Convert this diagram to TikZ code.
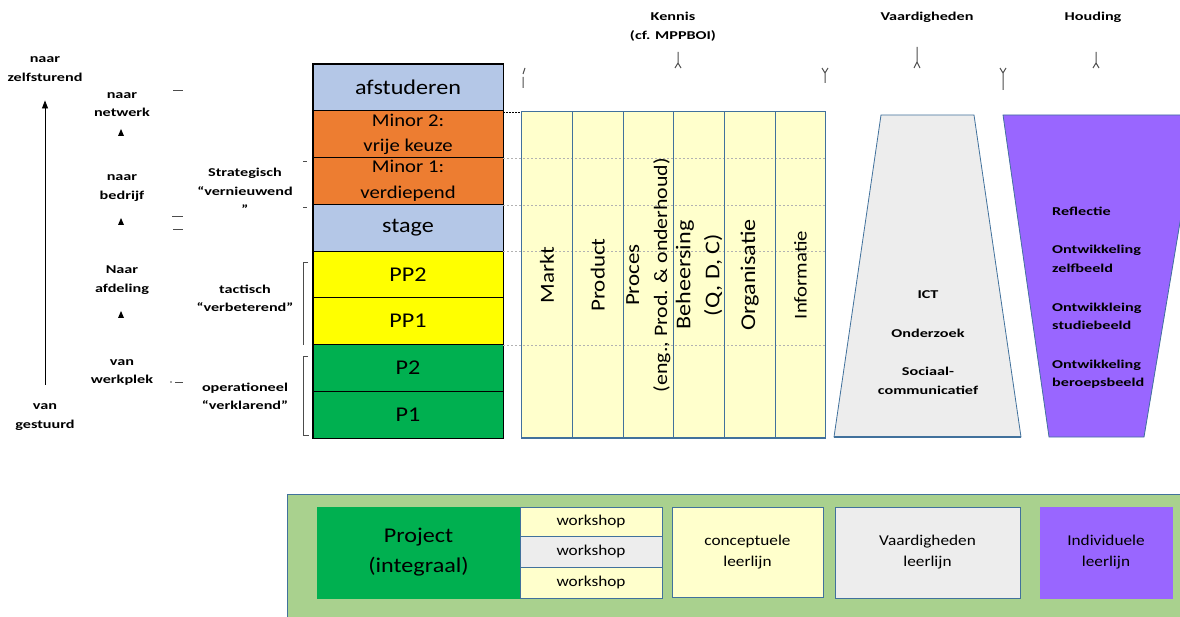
\documentclass[tikz,border=0pt]{standalone}
\usepackage{fontspec}
\setmainfont{Carlito}[FakeStretch=1.15]
\newfontfamily\lblfont{Carlito}[FakeStretch=1.35]
\usetikzlibrary{arrows.meta}
\definecolor{rand}{HTML}{41719C}
\definecolor{lichtblauw}{HTML}{B4C7E7}
\definecolor{oranje}{HTML}{ED7D31}
\definecolor{geel}{HTML}{FFFF00}
\definecolor{groen}{HTML}{00B050}
\definecolor{lichtgeel}{HTML}{FFFFCC}
\definecolor{lichtgrijs}{HTML}{EDEDED}
\definecolor{paars}{HTML}{9966FF}
\definecolor{achtergrond}{HTML}{A9D18E}
\tikzset{
	blok/.style={draw=black, line width=0.7pt, minimum width=190pt, minimum height=46.75pt, inner sep=0pt, align=center, font=\fontsize{21}{25}\selectfont},
	lbl/.style={align=center, inner sep=0pt, font=\lblfont\bfseries\fontsize{12}{18.5}\selectfont},
	kolom/.style={rotate=90, draw=rand, line width=1pt, minimum width=326pt, minimum height=50.67pt, inner sep=0pt, align=center, font=\fontsize{20}{28}\selectfont},
	vak/.style={draw=rand, line width=0.8pt, inner sep=0pt, align=center, font=\fontsize{15}{21}\selectfont},
	streep/.style={draw=gray!60, line width=0.8pt, dash pattern=on 2pt off 2pt},
	haak/.style={draw=black!70, line width=0.8pt},
	stueck/.style={draw=black!70, line width=1pt},
}
\begin{document}
\begin{tikzpicture}[x=1pt,y=-1pt]
	\useasboundingbox (0,0) rectangle (1180,617);
	%Spalte Studienphasen
	\node[blok, fill=lichtblauw] (afst) at (408,87.4) {afstuderen};
	\node[blok, fill=oranje, font=\fontsize{18}{25}\selectfont] (minor2) at (408,134.1) {Minor 2:\\vrije keuze};
	\node[blok, fill=oranje, font=\fontsize{18}{26}\selectfont] (minor1) at (408,180.9) {Minor 1:\\verdiepend};
	\node[blok, fill=lichtblauw] (stage) at (408,227.6) {stage};
	\node[blok, fill=geel] (pp2) at (408,274.4) {PP2};
	\node[blok, fill=geel] (pp1) at (408,321.1) {PP1};
	\node[blok, fill=groen] (p2) at (408,367.9) {P2};
	\node[blok, fill=groen] (p1) at (408,414.6) {P1};
	\draw[line width=1.5pt] (afst.north west) rectangle (p1.south east);%Rahmen
	%linke Seite
	\node[lbl] (zelfst) at (45,69) {naar\\zelfsturend};
	\node[lbl] (gestuurd) at (45,417) {van\\gestuurd};
	\draw[-{Triangle[width=6pt,length=8pt]}, line width=0.8pt, shorten <=19pt, shorten >=19pt] (gestuurd) -- (zelfst);%Pfeil lang
	\node[lbl] (netwerk) at (122,104.5) {naar\\netwerk};
	\node[lbl] (bedrijf) at (122,188) {naar\\bedrijf};
	\node[lbl] (afdeling) at (122,280) {Naar\\afdeling};
	\node[lbl] (werkplek) at (122,372.5) {van\\werkplek};
	\fill (118,136) -- (124,136) -- (121,129) -- cycle;%Spitze oben
	\fill (118,225) -- (124,225) -- (121,218) -- cycle;%Spitze mitte
	\fill (118,318) -- (124,318) -- (121,311) -- cycle;%Spitze unten
	\draw[haak] (173,90) -- (183,90);
	\draw[haak] (172,216) -- (183,216);
	\draw[haak] (173,229) -- (183,229);
	\draw[haak] (175,382) -- (183,382);
	\fill[black!70] (171,382) circle (0.8pt);
	\node[lbl] (strateg) at (245,191) {Strategisch\\“vernieuwend\\”};
	\node[lbl] (tactisch) at (245,298.5) {tactisch\\“verbeterend”};
	\node[lbl] (operat) at (245,396.5) {operationeel\\“verklarend”};
	\draw[haak] (303,161) -- (307,161);%Klammer oben
	\draw[haak] (303,207) -- (307,207);
	\draw[haak] (308,262) -- (303,262) -- (303,345);%Klammer mitte
	\draw[haak] (308,356) -- (303,356) -- (303,435) -- (309,435);%Klammer unten
	%Kennis Tabelle
	\fill[lichtgeel] (521,112) rectangle (825,438);
	\draw[line width=0.8pt, dash pattern=on 1.5pt off 1.5pt] (503,112) -- (521,112);
	\draw[streep] (503,158) -- (825,158);
	\draw[streep] (503,205) -- (825,205);
	\draw[streep] (503,251) -- (825,251);
	\draw[streep] (503,345) -- (825,345);
	\node[kolom] (markt) at (547,275) {Markt};
	\node[kolom] (product) at (597.7,275) {Product};
	\node[kolom] (proces) at (648.4,275) {Proces\\{\fontsize{19}{28}\selectfont(eng., Prod. \& onderhoud)}};
	\node[kolom, font=\fontsize{21}{29}\selectfont] (beheers) at (699,275) {Beheersing\\(Q, D, C)};
	\node[kolom, font=\fontsize{21}{28}\selectfont] (organis) at (749.7,275) {Organisatie};
	\node[kolom, font=\fontsize{18}{28}\selectfont] (informat) at (800.4,275) {Informatie};
	\draw[rand, line width=2pt] (521,438) -- (825,438);
	%Trapeze
	\filldraw[fill=lichtgrijs, draw=rand, line width=0.8pt] (881,115) -- (974,115) -- (1021,437) -- (834,437) -- cycle;
	\draw[rand, line width=2pt] (834,437) -- (1021,437);
	\filldraw[fill=paars, draw=rand, line width=0.8pt] (1003,115) -- (1198,115) -- (1144,437) -- (1049,437) -- cycle;
	\node[lbl] (ict) at (928,295) {ICT};
	\node[lbl] (onderz) at (928,333) {Onderzoek};
	\node[lbl] (sociaal) at (928,381) {Sociaal-\\communicatief};
	\node[lbl, anchor=west, align=left] (reflect) at (1052,211) {Reflectie};
	\node[lbl, anchor=west, align=left] (zelfb) at (1052,259) {Ontwikkeling\\zelfbeeld};
	\node[lbl, anchor=west, align=left] (studieb) at (1052,316.5) {Ontwikkleing\\studiebeeld};
	\node[lbl, anchor=west, align=left] (beroepsb) at (1052,374) {Ontwikkeling\\beroepsbeeld};
	%Kopfzeilen
	\node[lbl] (kennis) at (673,26.5) {Kennis\\(cf. MPPBOI)};
	\node[lbl] (vaard) at (927,17) {Vaardigheden};
	\node[lbl] (houding) at (1093,17) {Houding};
	\draw[stueck] (525,68) -- (523,74) (523,77) -- (523,88);%Klammerreste
	\draw[stueck] (678,52) -- (678,63) -- (675,68) (678,63) -- (681,68);
	\draw[stueck] (822,68) -- (825,73) -- (828,68) (825,73) -- (825,83);
	\draw[stueck] (917,47) -- (917,62) -- (914,68) (917,62) -- (920,68);
	\draw[stueck] (1000,68) -- (1003,73) -- (1006,68) (1003,73) -- (1003,90);
	\draw[stueck] (1096,52) -- (1096,63) -- (1093,68) (1096,63) -- (1099,68);
	%Legende unten
	\filldraw[fill=achtergrond, draw=rand, line width=0.8pt] (287,494) rectangle (1195,625);
	\node[vak, fill=groen, draw=groen, minimum width=203pt, minimum height=91pt, font=\fontsize{21}{30}\selectfont] (project) at (418.5,552.5) {Project\\(integraal)};
	\node[vak, fill=lichtgeel, minimum width=142pt, minimum height=29pt] (ws1) at (591,521.5) {workshop};
	\node[vak, fill=lichtgrijs, minimum width=142pt, minimum height=31pt] (ws2) at (591,551.5) {workshop};
	\node[vak, fill=lichtgeel, minimum width=142pt, minimum height=31pt] (ws3) at (591,582.5) {workshop};
	\node[vak, fill=lichtgeel, minimum width=151pt, minimum height=90pt] (concept) at (747.5,552) {conceptuele\\leerlijn};
	\node[vak, fill=lichtgrijs, minimum width=185pt, minimum height=91pt] (vaardl) at (927.5,552.5) {Vaardigheden\\leerlijn};
	\node[vak, fill=paars, draw=paars, minimum width=132pt, minimum height=91pt] (individ) at (1106,552.5) {Individuele\\leerlijn};

\end{tikzpicture}
\end{document}
